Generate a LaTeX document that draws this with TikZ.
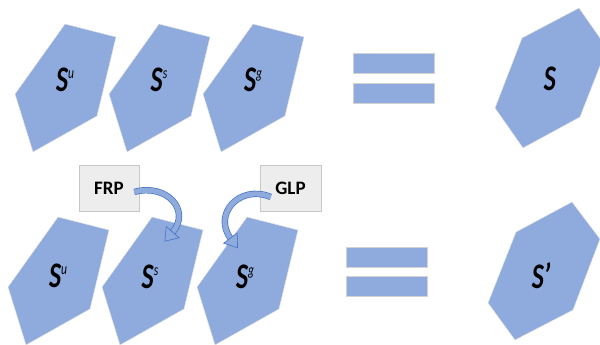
\documentclass[tikz,border=0pt]{standalone}
\usepackage{fontspec}
\setmainfont{Carlito}
\usepackage{xcolor}
\usetikzlibrary{decorations.markings}

\definecolor{shapeblue}{HTML}{8FAADC}
\definecolor{arrowline}{HTML}{4472C4}
\definecolor{boxfill}{HTML}{EDEDED}
\definecolor{boxline}{HTML}{C8C8C8}

\newcommand{\supr}[1]{\raisebox{13pt}{\fontsize{16}{18}\selectfont\mdseries #1}}

\tikzset{
  shard/.style={fill=shapeblue, draw=gray!20, line width=0.5pt},
  setlbl/.style={font=\fontsize{36}{40}\selectfont\bfseries\itshape, xscale=0.72, inner sep=0pt},
  eqbar/.style={fill=shapeblue, draw=gray!35, line width=0.8pt, minimum width=81pt, minimum height=20pt, inner sep=0pt},
  opbox/.style={fill=boxfill, draw=boxline, line width=0.6pt, minimum width=60pt, minimum height=46pt,
    font=\fontsize{19}{22}\selectfont\bfseries},
  bendarrow/.style={draw=shapeblue, line width=5pt,
    preaction={draw=arrowline, line width=6.4pt},
    postaction={decorate, decoration={markings, mark=at position 0.999 with {
      \filldraw[fill=shapeblue, draw=arrowline, line width=0.6pt] (-1,-8.5) -- (11,0) -- (-1,8.5) -- cycle;}}}}
}

\begin{document}
\begin{tikzpicture}[x=1pt,y=-1pt]
\useasboundingbox (0,0) rectangle (600,345);
\clip (0,0) rectangle (600,345);

% top row
\begin{scope}
\draw[shard] (15,94)--(65,24)--(116,37)--(97,116)--(33,152)--cycle;
\node[setlbl] (su) at (65,80) {S\supr{u}};
\end{scope}

\begin{scope}[shift={(94,0)}]
\draw[shard] (15,94)--(65,24)--(116,37)--(97,116)--(33,152)--cycle;
\node[setlbl] (ss) at (65,80) {S\supr{s}};
\end{scope}

\begin{scope}[shift={(188,0)}]
\draw[shard] (15,94)--(65,24)--(116,37)--(97,116)--(33,152)--cycle;
\node[setlbl] (sg) at (65,80) {S\supr{g}};
\end{scope}

\node[eqbar] (eqa) at (393.5,63) {};
\node[eqbar] (eqb) at (393.5,93.5) {};

\draw[shard] (495,108)--(522,38)--(579,8)--(607,48)--(580,117)--(523,148)--cycle;
\node[setlbl] (s) at (550,79) {S};

% bottom row
\begin{scope}[shift={(-7,193)}]
\draw[shard] (15,94)--(65,24)--(116,37)--(97,116)--(33,152)--cycle;
\node[setlbl] (su2) at (65,83) {S\supr{u}};
\end{scope}

\begin{scope}[shift={(87,193)}]
\draw[shard] (15,94)--(65,24)--(116,37)--(97,116)--(33,152)--cycle;
\node[setlbl] (ss2) at (63,84) {S\supr{s}};
\end{scope}

\begin{scope}[shift={(182,193)}]
\draw[shard] (15,94)--(65,24)--(116,37)--(97,116)--(33,152)--cycle;
\node[setlbl] (sg2) at (63,84) {S\supr{g}};
\end{scope}

\node[eqbar] (eqc) at (386.5,257) {};
\node[eqbar] (eqd) at (386.5,286.5) {};

\draw[shard] (488,303)--(516,232)--(572,202)--(600,239)--(573,310)--(515,340)--cycle;
\node[setlbl] (sp) at (541,276) {S’};

% operators
\node[opbox] (frp) at (109,188) {FRP};
\node[opbox, minimum width=61pt] (glp) at (290.5,188) {GLP};

\coordinate (frptip) at (172,233);
\coordinate (glptip) at (231,239);
\draw[bendarrow] ([xshift=-5pt,yshift=-4pt]frp.east) .. controls (166,183) and (192,210) .. (frptip);
\draw[bendarrow] ([xshift=11pt,yshift=-9pt]glp.west) .. controls (240,184) and (212,214) .. (glptip);

\end{tikzpicture}
\end{document}
